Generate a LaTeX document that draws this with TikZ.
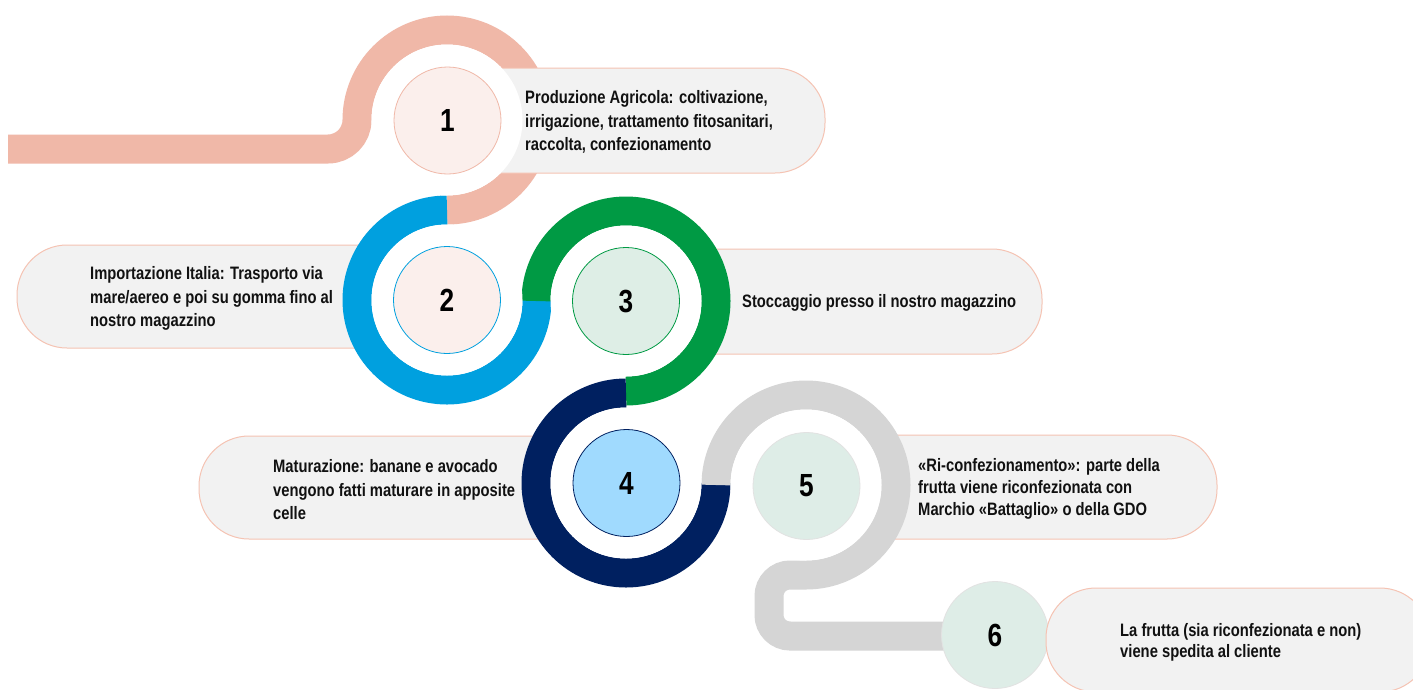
\documentclass[tikz,border=0pt]{standalone}
\usepackage{fontspec}
\setmainfont{Liberation Sans}[FakeStretch=0.82]
\definecolor{cpink}{HTML}{F0B8A8}
\definecolor{cblue}{HTML}{00A0DF}
\definecolor{cgreen}{HTML}{009A44}
\definecolor{cnavy}{HTML}{002060}
\definecolor{cgray}{HTML}{D5D5D5}
\definecolor{boxfill}{HTML}{F2F2F2}
\definecolor{boxline}{HTML}{F5C3B3}
\definecolor{fpink}{HTML}{FBEFEC}
\definecolor{fgreen}{HTML}{DEEEE6}
\definecolor{flblue}{HTML}{A0DAFE}
\definecolor{fgrgreen}{HTML}{DEEDE7}
\definecolor{ctext}{HTML}{111111}
\begin{document}
\begin{tikzpicture}[x=1pt,y=-1pt,
  ring/.style={line width=29pt},
  box/.style={draw=boxline, line width=1pt, fill=boxfill, rounded corners=50pt, inner sep=0pt},
  hole/.style={fill=white, draw=none},
  numc/.style={circle, minimum size=107pt, inner sep=0pt, line width=0.8pt,
    font=\fontsize{32}{32}\selectfont\bfseries, text=black},
  lbl/.style={anchor=west, align=left, inner sep=0pt, text=ctext,
    font=\fontsize{18}{23.5}\selectfont\bfseries}]
\path[use as bounding box] (0,0) rectangle (1413,689);
\clip (0,0) rectangle (1413,689);
\fill[white] (0,0) rectangle (1413,689);
% boxes lying under the rings
\node[box, minimum width=423pt, minimum height=103pt] (b2) at (228.5,296.5) {};
\node[box, minimum width=422pt, minimum height=105pt] (b3) at (831,301.5) {};
\node[box, minimum width=421pt, minimum height=103pt] (b4) at (409.5,487.5) {};
\node[box, minimum width=417pt, minimum height=104pt] (b5) at (1008.5,487) {};
% rings
\draw[ring, cpink] (8,149) -- (328,149) arc[start angle=90, end angle=0, radius=29]
   arc[start angle=180, end angle=450, radius=90];
\draw[ring, cblue] (447,210) arc[start angle=270, end angle=0, radius=90];
\draw[ring, cgreen] (536,301) arc[start angle=180, end angle=450, radius=90];
\draw[ring, cnavy] (626,393) arc[start angle=270, end angle=0, radius=90];
% box 1 over the pink ring
\node[box, minimum width=405pt, minimum height=105pt] (b1) at (622.5,120.5) {};
% grey ring (step 5 to 6)
\coordinate (g0) at (716,485);
\coordinate (g1) at (995,636);
\draw[ring, cgray] (g0) arc[start angle=180, end angle=450, radius=90]
   -- (790,575) arc[start angle=270, end angle=180, radius=21]
   -- (769,615) arc[start angle=180, end angle=90, radius=21]
   -- (g1);
% holes
\fill[hole] (447,120) circle[radius=75.5];
\fill[hole] (447,300) circle[radius=75.5];
\fill[hole] (626,301) circle[radius=75.5];
\fill[hole] (626,483) circle[radius=75.5];
\fill[hole] (806,485) circle[radius=75.5];
% number circles
\node[numc, draw=cpink, fill=fpink] (c1) at (447.5,120.5) {1};
\node[numc, draw=cblue, fill=fpink] (c2) at (447,300) {2};
\node[numc, draw=cgreen, fill=fgreen] (c3) at (626,301) {3};
\node[numc, draw=cnavy, fill=flblue] (c4) at (626.5,483) {4};
\node[numc, draw=cgray!70, fill=fgrgreen] (c5) at (806.5,486) {5};
\node[numc, draw=cgray!70, fill=fgrgreen] (c6) at (995,635) {6};
% box 6
\node[box, minimum width=384pt, minimum height=104pt] (b6) at (1238,640) {};
% texts
\node[lbl] (t1) at (525,122) {Produzione Agricola: coltivazione,\\irrigazione, trattamento fitosanitari,\\raccolta, confezionamento};
\node[lbl] (t2) at (90,298.5) {Importazione Italia: Trasporto via\\mare/aereo e poi su gomma fino al\\nostro magazzino};
\node[lbl] (t3) at (742,303) {Stoccaggio presso il nostro magazzino};
\node[lbl] (t4) at (273,490) {Maturazione: banane e avocado\\vengono fatti maturare in apposite\\celle};
\node[lbl, font=\fontsize{18}{22}\selectfont\bfseries] (t5) at (918,489) {«Ri-confezionamento»: parte della\\frutta viene riconfezionata con\\Marchio «Battaglio» o della GDO};
\node[lbl, font=\fontsize{18}{21.5}\selectfont\bfseries] (t6) at (1120,642.5) {La frutta (sia riconfezionata e non)\\viene spedita al cliente};
\end{tikzpicture}
\end{document}
